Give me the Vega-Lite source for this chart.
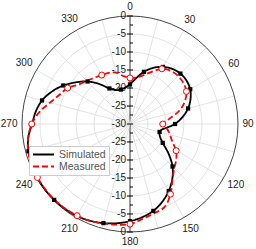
{
  "$schema": "https://vega.github.io/schema/vega-lite/v6.json",
  "width": 216,
  "height": 216,
  "padding": {"left": 22, "top": 16, "right": 18, "bottom": 17},
  "autosize": {"type": "none"},
  "background": "white",
  "config": {"view": {"stroke": null}, "font": "Liberation Sans"},
  "datasets": {
    "pat": [
      {"series": "Simulated", "angle": 0, "db": -19.0},
      {"series": "Simulated", "angle": 7.5, "db": -17.2},
      {"series": "Simulated", "angle": 15, "db": -15.0},
      {"series": "Simulated", "angle": 22.5, "db": -13.1},
      {"series": "Simulated", "angle": 30, "db": -11.7},
      {"series": "Simulated", "angle": 37.5, "db": -10.7},
      {"series": "Simulated", "angle": 45, "db": -10.2},
      {"series": "Simulated", "angle": 52.5, "db": -10.2},
      {"series": "Simulated", "angle": 60, "db": -10.7},
      {"series": "Simulated", "angle": 67.5, "db": -11.8},
      {"series": "Simulated", "angle": 75, "db": -13.3},
      {"series": "Simulated", "angle": 82.5, "db": -15.3},
      {"series": "Simulated", "angle": 90, "db": -17.5},
      {"series": "Simulated", "angle": 95, "db": -19.5},
      {"series": "Simulated", "angle": 100, "db": -21.0},
      {"series": "Simulated", "angle": 105, "db": -21.5},
      {"series": "Simulated", "angle": 112.5, "db": -21.0},
      {"series": "Simulated", "angle": 120, "db": -19.5},
      {"series": "Simulated", "angle": 127.5, "db": -16.5},
      {"series": "Simulated", "angle": 135, "db": -13.3},
      {"series": "Simulated", "angle": 142.5, "db": -10.7},
      {"series": "Simulated", "angle": 150, "db": -8.5},
      {"series": "Simulated", "angle": 157.5, "db": -6.6},
      {"series": "Simulated", "angle": 165, "db": -5.0},
      {"series": "Simulated", "angle": 172.5, "db": -3.9},
      {"series": "Simulated", "angle": 180, "db": -3.0},
      {"series": "Simulated", "angle": 187.5, "db": -2.2},
      {"series": "Simulated", "angle": 195, "db": -1.5},
      {"series": "Simulated", "angle": 202.5, "db": -0.9},
      {"series": "Simulated", "angle": 210, "db": -0.5},
      {"series": "Simulated", "angle": 217.5, "db": -0.3},
      {"series": "Simulated", "angle": 225, "db": -0.2},
      {"series": "Simulated", "angle": 232.5, "db": -0.2},
      {"series": "Simulated", "angle": 240, "db": -0.3},
      {"series": "Simulated", "angle": 247.5, "db": -0.5},
      {"series": "Simulated", "angle": 255, "db": -0.8},
      {"series": "Simulated", "angle": 262.5, "db": -1.5},
      {"series": "Simulated", "angle": 270, "db": -2.8},
      {"series": "Simulated", "angle": 277.5, "db": -3.6},
      {"series": "Simulated", "angle": 285, "db": -4.7},
      {"series": "Simulated", "angle": 292.5, "db": -6.5},
      {"series": "Simulated", "angle": 300, "db": -8.6},
      {"series": "Simulated", "angle": 307.5, "db": -11.0},
      {"series": "Simulated", "angle": 315, "db": -13.3},
      {"series": "Simulated", "angle": 322.5, "db": -16.0},
      {"series": "Simulated", "angle": 330, "db": -18.6},
      {"series": "Simulated", "angle": 337.5, "db": -19.8},
      {"series": "Simulated", "angle": 345, "db": -20.1},
      {"series": "Simulated", "angle": 352.5, "db": -19.8},
      {"series": "Simulated", "angle": 360, "db": -19.0},
      {"series": "Measured", "angle": 0, "db": -17.2},
      {"series": "Measured", "angle": 7.5, "db": -17.0},
      {"series": "Measured", "angle": 15, "db": -16.0},
      {"series": "Measured", "angle": 22.5, "db": -14.3},
      {"series": "Measured", "angle": 30, "db": -12.3},
      {"series": "Measured", "angle": 37.5, "db": -11.4},
      {"series": "Measured", "angle": 45, "db": -11.1},
      {"series": "Measured", "angle": 52.5, "db": -11.3},
      {"series": "Measured", "angle": 60, "db": -11.9},
      {"series": "Measured", "angle": 67.5, "db": -13.5},
      {"series": "Measured", "angle": 75, "db": -15.8},
      {"series": "Measured", "angle": 82.5, "db": -19.0},
      {"series": "Measured", "angle": 90, "db": -20.9},
      {"series": "Measured", "angle": 97.5, "db": -19.6},
      {"series": "Measured", "angle": 105, "db": -18.5},
      {"series": "Measured", "angle": 112.5, "db": -17.3},
      {"series": "Measured", "angle": 120, "db": -15.2},
      {"series": "Measured", "angle": 127.5, "db": -13.8},
      {"series": "Measured", "angle": 135, "db": -12.6},
      {"series": "Measured", "angle": 142.5, "db": -10.6},
      {"series": "Measured", "angle": 150, "db": -7.5},
      {"series": "Measured", "angle": 157.5, "db": -5.0},
      {"series": "Measured", "angle": 165, "db": -4.3},
      {"series": "Measured", "angle": 172.5, "db": -3.4},
      {"series": "Measured", "angle": 180, "db": -2.2},
      {"series": "Measured", "angle": 187.5, "db": -1.8},
      {"series": "Measured", "angle": 195, "db": -1.4},
      {"series": "Measured", "angle": 202.5, "db": -0.9},
      {"series": "Measured", "angle": 210, "db": -0.6},
      {"series": "Measured", "angle": 217.5, "db": -0.4},
      {"series": "Measured", "angle": 225, "db": -0.3},
      {"series": "Measured", "angle": 232.5, "db": -0.3},
      {"series": "Measured", "angle": 240, "db": -0.3},
      {"series": "Measured", "angle": 247.5, "db": -0.5},
      {"series": "Measured", "angle": 255, "db": -0.7},
      {"series": "Measured", "angle": 262.5, "db": -1.5},
      {"series": "Measured", "angle": 270, "db": -2.7},
      {"series": "Measured", "angle": 277.5, "db": -4.6},
      {"series": "Measured", "angle": 285, "db": -7.0},
      {"series": "Measured", "angle": 292.5, "db": -8.8},
      {"series": "Measured", "angle": 300, "db": -10.0},
      {"series": "Measured", "angle": 307.5, "db": -12.0},
      {"series": "Measured", "angle": 315, "db": -13.0},
      {"series": "Measured", "angle": 322.5, "db": -13.8},
      {"series": "Measured", "angle": 330, "db": -14.3},
      {"series": "Measured", "angle": 337.5, "db": -14.6},
      {"series": "Measured", "angle": 345, "db": -15.2},
      {"series": "Measured", "angle": 352.5, "db": -16.6},
      {"series": "Measured", "angle": 360, "db": -17.2}
    ],
    "rings": [{"db": -25}, {"db": -20}, {"db": -15}, {"db": -10}, {"db": -5}],
    "spokes": [
      {"angle": 0}, {"angle": 15}, {"angle": 30}, {"angle": 45}, {"angle": 60}, {"angle": 75}, {"angle": 90},
      {"angle": 105}, {"angle": 120}, {"angle": 135}, {"angle": 150}, {"angle": 165}, {"angle": 180},
      {"angle": 195}, {"angle": 210}, {"angle": 225}, {"angle": 240}, {"angle": 255}, {"angle": 270},
      {"angle": 285}, {"angle": 300}, {"angle": 315}, {"angle": 330}, {"angle": 345}
    ],
    "labels": [
      {"angle": 0, "label": "0"}, {"angle": 30, "label": "30"}, {"angle": 60, "label": "60"},
      {"angle": 90, "label": "90"}, {"angle": 120, "label": "120"}, {"angle": 150, "label": "150"},
      {"angle": 180, "label": "180"}, {"angle": 210, "label": "210"}, {"angle": 240, "label": "240"},
      {"angle": 270, "label": "270"}, {"angle": 300, "label": "300"}, {"angle": 330, "label": "330"}
    ],
    "rticks": [
      {"v": -30}, {"v": -27.5}, {"v": -25}, {"v": -22.5}, {"v": -20}, {"v": -17.5}, {"v": -15},
      {"v": -12.5}, {"v": -10}, {"v": -7.5}, {"v": -5}, {"v": -2.5}, {"v": 0}, {"v": 2.5},
      {"v": 5}, {"v": 7.5}, {"v": 10}, {"v": 12.5}, {"v": 15}, {"v": 17.5}, {"v": 20},
      {"v": 22.5}, {"v": 25}, {"v": 27.5}, {"v": 30}
    ]
  },
  "layer": [
    {
      "data": {"name": "rings"},
      "transform": [
        {"calculate": "datum.db + 30", "as": "r"},
        {"calculate": "0", "as": "cx"}
      ],
      "mark": {"type": "point", "shape": "circle", "filled": false, "stroke": "#dcdcdc", "strokeWidth": 0.8, "opacity": 1},
      "encoding": {
        "x": {"field": "cx", "type": "quantitative", "scale": {"domain": [-30, 30], "nice": false, "zero": false}, "axis": null},
        "y": {"field": "cx", "type": "quantitative", "scale": {"domain": [-30, 30], "nice": false, "zero": false}, "axis": null},
        "size": {"field": "r", "type": "quantitative", "scale": {"type": "pow", "exponent": 2, "domain": [0, 30], "range": [0, 46656]}, "legend": null}
      }
    },
    {
      "data": {"name": "spokes"},
      "transform": [
        {"calculate": "30 * sin(datum.angle * PI / 180)", "as": "sx"},
        {"calculate": "30 * cos(datum.angle * PI / 180)", "as": "sy"},
        {"calculate": "0", "as": "cx"}
      ],
      "mark": {"type": "rule", "strokeWidth": 0.8},
      "encoding": {
        "x": {"field": "cx", "type": "quantitative", "scale": {"domain": [-30, 30], "nice": false, "zero": false}, "axis": null},
        "y": {"field": "cx", "type": "quantitative", "scale": {"domain": [-30, 30], "nice": false, "zero": false}, "axis": null},
        "x2": {"field": "sx"},
        "y2": {"field": "sy"},
        "stroke": {"condition": {"test": "datum.angle % 180 == 0", "value": "#000000"}, "value": "#dcdcdc"}
      }
    },
    {
      "data": {"values": [{"db": 0}]},
      "transform": [
        {"calculate": "datum.db + 30", "as": "r"},
        {"calculate": "0", "as": "cx"}
      ],
      "mark": {"type": "point", "shape": "circle", "filled": false, "stroke": "#444444", "strokeWidth": 1, "opacity": 1},
      "encoding": {
        "x": {"field": "cx", "type": "quantitative", "scale": {"domain": [-30, 30], "nice": false, "zero": false}, "axis": null},
        "y": {"field": "cx", "type": "quantitative", "scale": {"domain": [-30, 30], "nice": false, "zero": false}, "axis": null},
        "size": {"field": "r", "type": "quantitative", "scale": {"type": "pow", "exponent": 2, "domain": [0, 30], "range": [0, 46656]}, "legend": null}
      }
    },
    {
      "data": {"name": "rticks"},
      "transform": [
        {"filter": "datum.v % 5 == 0"},
        {"calculate": "0", "as": "cx"},
        {"calculate": "abs(datum.v) == 30 ? '0' : '-' + (30 - abs(datum.v))", "as": "lab"}
      ],
      "mark": {"type": "text", "align": "right", "baseline": "middle", "dx": -4, "font": "Liberation Sans", "fontSize": 10, "color": "#222222"},
      "encoding": {
        "x": {"field": "cx", "type": "quantitative", "scale": {"domain": [-30, 30], "nice": false, "zero": false}, "axis": null},
        "y": {"field": "v", "type": "quantitative", "scale": {"domain": [-30, 30], "nice": false, "zero": false}, "axis": null},
        "text": {"field": "lab", "type": "nominal"}
      }
    },
    {
      "data": {"name": "rticks"},
      "transform": [
        {"filter": "datum.v % 5 == 0"},
        {"calculate": "0", "as": "cx"}
      ],
      "mark": {"type": "tick", "orient": "horizontal", "size": 6, "thickness": 1, "color": "#000000", "opacity": 1},
      "encoding": {
        "x": {"field": "cx", "type": "quantitative", "scale": {"domain": [-30, 30], "nice": false, "zero": false}, "axis": null},
        "y": {"field": "v", "type": "quantitative", "scale": {"domain": [-30, 30], "nice": false, "zero": false}, "axis": null}
      }
    },
    {
      "data": {"name": "rticks"},
      "transform": [
        {"filter": "datum.v % 5 != 0"},
        {"calculate": "0", "as": "cx"}
      ],
      "mark": {"type": "tick", "orient": "horizontal", "size": 3, "thickness": 1, "xOffset": 1.5, "color": "#000000", "opacity": 1},
      "encoding": {
        "x": {"field": "cx", "type": "quantitative", "scale": {"domain": [-30, 30], "nice": false, "zero": false}, "axis": null},
        "y": {"field": "v", "type": "quantitative", "scale": {"domain": [-30, 30], "nice": false, "zero": false}, "axis": null}
      }
    },
    {
      "data": {"name": "pat"},
      "transform": [
        {"calculate": "(datum.db + 30) * sin(datum.angle * PI / 180)", "as": "x"},
        {"calculate": "(datum.db + 30) * cos(datum.angle * PI / 180)", "as": "y"}
      ],
      "mark": {"type": "line", "interpolate": "catmull-rom", "strokeWidth": 1.8},
      "encoding": {
        "x": {"field": "x", "type": "quantitative", "scale": {"domain": [-30, 30], "nice": false, "zero": false}, "axis": null},
        "y": {"field": "y", "type": "quantitative", "scale": {"domain": [-30, 30], "nice": false, "zero": false}, "axis": null},
        "order": {"field": "angle", "type": "quantitative"},
        "color": {
          "field": "series", "type": "nominal", "title": null,
          "scale": {"domain": ["Simulated", "Measured"], "range": ["#000000", "#ff0000"]},
          "legend": {
            "orient": "none", "legendX": 7, "legendY": 130,
            "fillColor": "white", "strokeColor": "#cccccc", "padding": 3,
            "symbolType": "stroke", "symbolSize": 441, "symbolStrokeWidth": 2, "clipHeight": 11,
            "labelFont": "Liberation Sans", "labelFontSize": 10.5, "labelColor": "#555555",
            "labelOffset": 4, "rowPadding": 1
          }
        },
        "strokeDash": {
          "field": "series", "type": "nominal", "title": null,
          "scale": {"domain": ["Simulated", "Measured"], "range": [[1, 0], [6, 3]]}
        }
      }
    },
    {
      "data": {"name": "pat"},
      "transform": [
        {"filter": "datum.series == 'Simulated' && datum.angle % 15 == 0 && datum.angle < 360"},
        {"calculate": "(datum.db + 30) * sin(datum.angle * PI / 180)", "as": "x"},
        {"calculate": "(datum.db + 30) * cos(datum.angle * PI / 180)", "as": "y"}
      ],
      "mark": {"type": "point", "shape": "square", "filled": true, "color": "#000000", "size": 18, "opacity": 1},
      "encoding": {
        "x": {"field": "x", "type": "quantitative", "scale": {"domain": [-30, 30], "nice": false, "zero": false}, "axis": null},
        "y": {"field": "y", "type": "quantitative", "scale": {"domain": [-30, 30], "nice": false, "zero": false}, "axis": null}
      }
    },
    {
      "data": {"name": "pat"},
      "transform": [
        {"filter": "datum.series == 'Measured' && datum.angle % 30 == 0 && datum.angle < 360"},
        {"calculate": "(datum.db + 30) * sin(datum.angle * PI / 180)", "as": "x"},
        {"calculate": "(datum.db + 30) * cos(datum.angle * PI / 180)", "as": "y"}
      ],
      "mark": {"type": "point", "shape": "circle", "filled": true, "fill": "white", "stroke": "#ff0000", "strokeWidth": 1, "size": 36, "opacity": 1},
      "encoding": {
        "x": {"field": "x", "type": "quantitative", "scale": {"domain": [-30, 30], "nice": false, "zero": false}, "axis": null},
        "y": {"field": "y", "type": "quantitative", "scale": {"domain": [-30, 30], "nice": false, "zero": false}, "axis": null}
      }
    },
    {
      "data": {"name": "labels"},
      "transform": [
        {"calculate": "datum.angle * PI / 180", "as": "rad"},
        {"calculate": "30 + (4.5 + abs(sin(datum.rad)) * 2.8 * length(datum.label) + abs(cos(datum.rad)) * 5) / 3.6", "as": "lr"},
        {"calculate": "datum.lr * sin(datum.rad)", "as": "tx"},
        {"calculate": "datum.lr * cos(datum.rad)", "as": "ty"}
      ],
      "mark": {"type": "text", "align": "center", "baseline": "middle", "font": "Liberation Sans", "fontSize": 10, "color": "#222222"},
      "encoding": {
        "x": {"field": "tx", "type": "quantitative", "scale": {"domain": [-30, 30], "nice": false, "zero": false}, "axis": null},
        "y": {"field": "ty", "type": "quantitative", "scale": {"domain": [-30, 30], "nice": false, "zero": false}, "axis": null},
        "text": {"field": "label", "type": "nominal"}
      }
    }
  ]
}
